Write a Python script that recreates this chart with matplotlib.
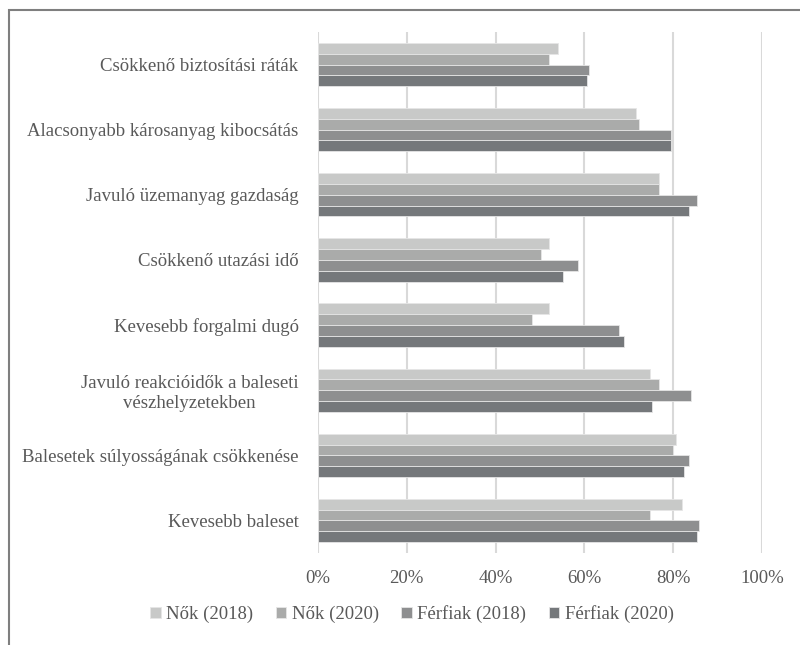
import matplotlib
matplotlib.use("Agg")
import matplotlib.pyplot as plt
import matplotlib.patches as patches
import numpy as np

# data (percent)
categories = [
    "Csökkenő biztosítási ráták",
    "Alacsonyabb károsanyag kibocsátás",
    "Javuló üzemanyag gazdaság",
    "Csökkenő utazási idő",
    "Kevesebb forgalmi dugó",
    "Javuló reakcióidők a baleseti\nvészhelyzetekben",
    "Balesetek súlyosságának csökkenése",
    "Kevesebb baleset",
]
series_names = ["Nők (2018)", "Nők (2020)", "Férfiak (2018)", "Férfiak (2020)"]
nok_2018 = [54.1, 71.7, 76.7, 52.1, 52.1, 74.7, 80.6, 82.0]
nok_2020 = [52.1, 72.2, 76.7, 50.2, 48.2, 76.7, 80.0, 74.7]
ferfiak_2018 = [61.0, 79.6, 85.4, 58.6, 67.9, 84.0, 83.5, 85.9]
ferfiak_2020 = [60.5, 79.6, 83.5, 55.1, 68.9, 75.2, 82.5, 85.4]
colors = ["#c8c9c8", "#aaabaa", "#8e8f90", "#75787b"]

plt.rcParams['font.family'] = ['Liberation Serif', 'DejaVu Serif']
text_color = "#595959"
fs = 13.5

fig = plt.figure(figsize=(8, 6.45), dpi=100)
ax = fig.add_axes([0.3975, 0.1426, 0.555, 0.8078])

series = [nok_2018, nok_2020, ferfiak_2018, ferfiak_2020]
h = 0.166
y = np.arange(len(categories))
for j, (vals, name) in enumerate(zip(series, series_names)):
    ax.barh(y + (j - 1.5) * h, np.array(vals) / 100, height=h,
            color=colors[j], edgecolor="#e6e6e6", linewidth=0.6,
            label=name, zorder=3)

ax.set_ylim(len(categories) - 0.5, -0.5)
ax.set_xlim(0, 1)
ax.set_xticks(np.arange(0, 1.01, 0.2))
ax.set_xticklabels([f"{int(v)}%" for v in np.arange(0, 101, 20)])
ax.set_yticks(y)
ax.set_yticklabels(categories)
for lab in ax.get_yticklabels():
    lab.set_multialignment("center")

ax.grid(axis="x", color="#d9d9d9", linewidth=1.5, zorder=0)
ax.grid(axis="y", visible=False)
for s in ax.spines.values():
    s.set_visible(False)
ax.tick_params(axis="both", length=0, colors=text_color, labelsize=fs)
ax.tick_params(axis="y", pad=14)
ax.tick_params(axis="x", pad=12)

leg = fig.legend(loc="center", bbox_to_anchor=(0.515, 0.048), ncol=4,
                 frameon=False, fontsize=fs, handlelength=0.55,
                 handleheight=0.55, handletextpad=0.3, columnspacing=1.2)
for t in leg.get_texts():
    t.set_color(text_color)

# outer frame (only left and top edges visible in the reference)
fig.patches.append(patches.Rectangle((8.5 / 800, -0.1), 1.2, 1 - 9.5 / 645 + 0.1,
                                     transform=fig.transFigure, fill=False,
                                     edgecolor="#7f7f7f", linewidth=1.5))

fig.savefig("out.png", dpi=100)
